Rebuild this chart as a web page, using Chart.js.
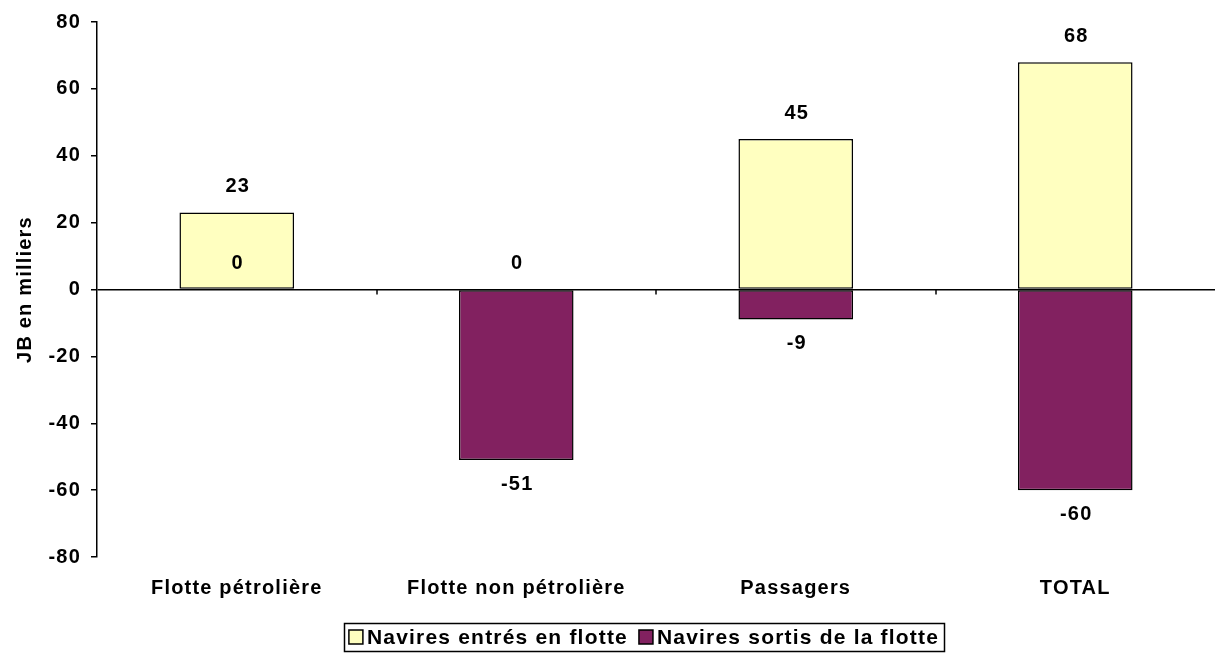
<!DOCTYPE html>
<html>
<head>
<meta charset="utf-8">
<script src="https://cdn.jsdelivr.net/npm/chart.js@4.4.1/dist/chart.umd.min.js"></script>
<style>
  html, body { margin: 0; padding: 0; background: #fff; }
  #wrap { width: 1215px; height: 654px; position: relative; }
</style>
</head>
<body>
<div id="wrap"><canvas id="fleet-chart"></canvas></div>
<script>
const categories = ['Flotte pétrolière', 'Flotte non pétrolière', 'Passagers', 'TOTAL'];
const entres = [23, 0, 45, 68];
const sortis = [0, -51, -9, -60];
const yTicks = [-80, -60, -40, -20, 0, 20, 40, 60, 80];

const FONT = "'Liberation Sans', Arial, sans-serif";
const SPACING = '1.2px';

// Excel-like wide text: letter spacing on the canvas context
const spacing = {
    id: 'spacing',
    beforeLayout(chart) { chart.ctx.letterSpacing = SPACING; },
    beforeDraw(chart) { chart.ctx.letterSpacing = SPACING; }
};

// data labels above positive ends, below negative ends
const valueLabels = {
    id: 'valueLabels',
    afterDatasetsDraw(chart) {
        const ctx = chart.ctx;
        const ys = chart.scales.y;
        ctx.save();
        ctx.font = 'bold 20px ' + FONT;
        ctx.fillStyle = '#000';
        ctx.textAlign = 'center';
        ctx.textBaseline = 'middle';
        chart.data.datasets.forEach((ds, di) => {
            chart.getDatasetMeta(di).data.forEach((bar, i) => {
                const v = ds.data[i];
                const end = ys.getPixelForValue(v);
                const y = v >= 0 ? end - 26 : end + 24;
                ctx.fillText(String(v), bar.x + 1, y);
            });
        });
        ctx.restore();
    }
};

// category separators on the zero line, and the boxed legend at the bottom
const extras = {
    id: 'extras',
    afterDraw(chart) {
        const ctx = chart.ctx;
        const xs = chart.scales.x, ys = chart.scales.y;
        const y0 = ys.getPixelForValue(0);
        ctx.save();
        ctx.strokeStyle = '#000';
        ctx.lineWidth = 1.5;
        for (let i = 0; i < categories.length - 1; i++) {
            const x = Math.round((xs.getPixelForValue(i) + xs.getPixelForValue(i + 1)) / 2);
            ctx.beginPath();
            ctx.moveTo(x, y0);
            ctx.lineTo(x, y0 + 5);
            ctx.stroke();
        }

        // legend
        ctx.font = 'bold 21px ' + FONT;
        ctx.textBaseline = 'middle';
        ctx.textAlign = 'left';
        const box = 14, gap = 4, itemGap = 11, pad = 5;
        const items = chart.data.datasets.map(ds => ({
            label: ds.label, color: ds.backgroundColor, w: ctx.measureText(ds.label).width
        }));
        let total = 0;
        items.forEach((it, i) => { total += box + gap + it.w + (i ? itemGap : 0); });
        const cx = (chart.chartArea.left + chart.chartArea.right) / 2 - 12;
        const top = 623, h = 28, cy = top + h / 2;
        let x = cx - total / 2;
        ctx.strokeRect(Math.round(x - pad) + 0.5, top + 0.5, Math.round(total + pad * 2), h);
        items.forEach((it) => {
            ctx.fillStyle = it.color;
            ctx.fillRect(x, cy - box / 2, box, box);
            ctx.strokeStyle = '#000';
            ctx.lineWidth = 1.5;
            ctx.strokeRect(x, cy - box / 2, box, box);
            ctx.fillStyle = '#000';
            ctx.fillText(it.label, x + box + gap, cy + 1);
            x += box + gap + it.w + itemGap;
        });
        ctx.restore();
    }
};

new Chart(document.getElementById('fleet-chart'), {
    type: 'bar',
    data: {
        labels: categories,
        datasets: [{
            label: 'Navires entrés en flotte',
            data: entres,
            backgroundColor: '#FFFFC0',
            borderColor: '#000',
            borderWidth: (c) => c.raw === 0 ? 0 : 1.5,
            borderSkipped: false
        }, {
            label: 'Navires sortis de la flotte',
            data: sortis,
            backgroundColor: '#822160',
            borderColor: '#000',
            borderWidth: (c) => c.raw === 0 ? 0 : 1.5,
            borderSkipped: false
        }]
    },
    options: {
        responsive: true,
        maintainAspectRatio: false,
        animation: false,
        barPercentage: 0.41,
        categoryPercentage: 1,
        layout: { padding: { top: 15, right: 0, left: 13, bottom: 39 } },
        scales: {
            x: {
                stacked: true,
                grid: { display: false },
                border: { display: false },
                afterFit: (s) => { s.height = 58; },
                ticks: {
                    color: '#000',
                    padding: 11,
                    maxRotation: 0,
                    font: { family: FONT, size: 20, weight: 'bold' }
                }
            },
            y: {
                stacked: true,
                min: -80,
                max: 80,
                afterBuildTicks: (s) => { s.ticks = yTicks.map(v => ({ value: v })); },
                afterFit: (s) => { s.width = 84; },
                border: { display: true, color: '#000', width: 1.5 },
                grid: {
                    drawTicks: true,
                    tickLength: 6,
                    tickColor: '#000',
                    color: (c) => c.tick && c.tick.value === 0 ? '#000' : 'rgba(0,0,0,0)',
                    lineWidth: 1.5
                },
                ticks: {
                    color: '#000',
                    padding: 10,
                    font: { family: FONT, size: 20, weight: 'bold' }
                },
                title: {
                    display: true,
                    text: 'JB en milliers',
                    color: '#000',
                    padding: 0,
                    font: { family: FONT, size: 20, weight: 'bold' }
                }
            }
        },
        plugins: {
            tooltip: { enabled: false },
            legend: { display: false }
        }
    },
    plugins: [spacing, valueLabels, extras]
});
</script>
</body>
</html>
